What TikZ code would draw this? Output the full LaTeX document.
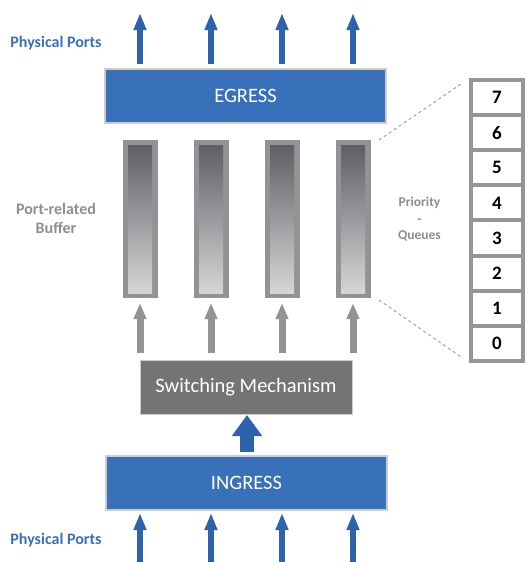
\documentclass[tikz,border=0pt]{standalone}
\usepackage{fontspec}
\setmainfont{Carlito}
\usetikzlibrary{arrows.meta,shadings}
\definecolor{portblue}{HTML}{3870B9}
\definecolor{arrowblue}{HTML}{2D63AB}
\definecolor{switchgray}{HTML}{747477}
\definecolor{bufgray}{HTML}{939396}
\definecolor{labelgray}{HTML}{8E8E90}
\definecolor{cellgray}{HTML}{959595}
\tikzset{
  portbox/.style={draw=black!20, line width=1.2pt, fill=portblue, text=white,
    minimum width=281pt, minimum height=54pt, inner sep=0pt,
    font=\fontsize{20.5}{22}\selectfont},
  switchbox/.style={draw=black!20, line width=0.8pt, fill=switchgray, text=white,
    minimum width=212pt, minimum height=54pt, inner sep=0pt,
    font=\fontsize{20.5}{22}\selectfont},
  bufouter/.style={fill=bufgray, minimum width=35pt, minimum height=158pt, inner sep=0pt},
  portarrow/.style={arrowblue, line width=6pt, -{Triangle[width=12pt,length=17pt]}},
  bigarrow/.style={arrowblue, line width=14pt, -{Triangle[width=29pt,length=21pt]}},
  bufarrow/.style={bufgray, line width=7pt, -{Triangle[width=12pt,length=16pt]}},
  sidelabel/.style={font=\bfseries\fontsize{16}{19}\selectfont, align=center},
  qcell/.style={draw=cellgray, line width=4pt, fill=white, minimum width=52pt,
    minimum height=35.1pt, inner sep=0pt, font=\bfseries\fontsize{19}{19}\selectfont},
  zoomline/.style={draw=black!40, dashed, line width=0.9pt}
}
\begin{document}
\begin{tikzpicture}[x=1pt,y=-1pt]
\useasboundingbox (0,0) rectangle (526,562);

% main blocks
\node[portbox] (eg) at (245.5,96) {EGRESS};
\node[portbox] (in) at (246.5,483) {INGRESS};
\node[switchbox] (sw) at (246,387) {Switching Mechanism};

% buffers, outgoing ports and buffer feeds
\foreach \i/\x in {1/140,2/211,3/282,4/353}{
  \node[bufouter] (b\i) at (\x,219) {};
  \shade[top color={rgb,255:red,94;green,95;blue,100}, bottom color={rgb,255:red,214;green,214;blue,216}]
    (\x-12,145) rectangle (\x+12,293);
  \coordinate (out\i) at (\x,13);
  \coordinate (egs\i) at (\x,64);
  \coordinate (inp\i) at (\x,562);
  \coordinate (ine\i) at (\x,513);
  \coordinate (bs\i) at (\x,353);
  \coordinate (be\i) at (\x,303);
  \draw[portarrow] (egs\i) -- (out\i);
  \draw[portarrow] (inp\i) -- (ine\i);
  \draw[bufarrow] (bs\i) -- (be\i);
}

% ingress to switching
\coordinate (bigs) at (247,452);
\coordinate (bige) at (247,415);
\draw[bigarrow] (bigs) -- (bige);

% side labels
\node[sidelabel, text=portblue] (pp1) at (56,43) {Physical Ports};
\node[sidelabel, text=portblue] (pp2) at (56,540) {Physical Ports};
\node[sidelabel, text=labelgray] (prb) at (56,218.5) {Port-related\\Buffer};
\node[sidelabel, text=labelgray, font=\bfseries\fontsize{13.5}{16.5}\selectfont] (pq) at (419.5,219.5) {Priority\\-\\Queues};

% priority queue stack
\foreach \n [count=\k from 0] in {7,6,5,4,3,2,1,0}{
  \node[qcell] (q\n) at (497,97.55+35.1*\k) {\n};
}
\coordinate (zt) at (461,84);
\coordinate (zb) at (461,357);
\coordinate (bt) at (379,140);
\coordinate (bb) at (379,300);
\draw[zoomline] (bt) -- (zt);
\draw[zoomline] (bb) -- (zb);
\end{tikzpicture}
\end{document}
